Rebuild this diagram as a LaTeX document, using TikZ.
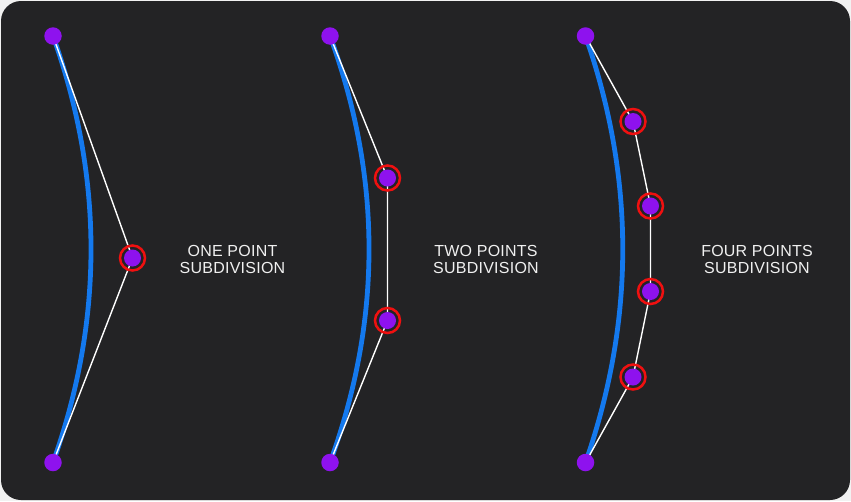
\documentclass[tikz,border=0pt]{standalone}
\usepackage{fontspec}
\setmainfont{Liberation Sans}[LetterSpace=1.5]
\usetikzlibrary{calc}
\definecolor{bgdark}{HTML}{232325}
\definecolor{outer}{HTML}{F2F2F2}
\definecolor{curveblue}{HTML}{1479EE}
\definecolor{dotpurple}{HTML}{8E12EE}
\definecolor{ringred}{HTML}{F01010}
\definecolor{labelgray}{HTML}{F0F0F0}
\tikzset{
  curve/.style={draw=curveblue, line width=4.8pt},
  hull/.style={draw=white, line width=1.4pt},
  enddot/.style={circle, fill=dotpurple, minimum size=17.5pt, inner sep=0pt},
  subdot/.style={circle, fill=dotpurple, minimum size=17pt, inner sep=0pt},
  ring/.style={circle, draw=ringred, line width=2.5pt, minimum size=25pt, inner sep=0pt},
  caption/.style={text=labelgray, font=\fontsize{16pt}{17pt}\selectfont, align=center, inner sep=0pt}
}
\begin{document}
\begin{tikzpicture}[x=1pt,y=-1pt]
\useasboundingbox (0,0) rectangle (851,501);
\fill[outer] (0,0) rectangle (851,501);
\fill[bgdark, rounded corners=20pt] (1,1) rectangle (850,500);

% ---------- panel 1 ----------
\coordinate (p1t) at (53,36);
\coordinate (p1b) at (53,462.5);
\coordinate (p1c) at (129,249);
\coordinate (p1m) at (132.5,258);
\draw[curve] (p1t) .. controls ($(p1t)!2/3!(p1c)$) and ($(p1b)!2/3!(p1c)$) .. (p1b);
\draw[hull] (p1t) -- (p1m) -- (p1b);
\node[ring] (r1m) at (p1m) {};
\node[subdot] (d1m) at (p1m) {};
\node[enddot] (d1t) at (p1t) {};
\node[enddot] (d1b) at (p1b) {};
\node[caption] (t1) at (232.5,259) {ONE POINT\\SUBDIVISION};

% ---------- panel 2 ----------
\coordinate (p2t) at (330,36);
\coordinate (p2b) at (330,462.5);
\coordinate (p2c) at (408,249);
\coordinate (p2m1) at (387.5,178);
\coordinate (p2m2) at (387.5,320.5);
\draw[curve] (p2t) .. controls ($(p2t)!2/3!(p2c)$) and ($(p2b)!2/3!(p2c)$) .. (p2b);
\draw[hull] (p2t) -- (p2m1) -- (p2m2) -- (p2b);
\foreach \n in {p2m1,p2m2}{
  \node[ring] (r\n) at (\n) {};
  \node[subdot] (d\n) at (\n) {};
}
\node[enddot] (d2t) at (p2t) {};
\node[enddot] (d2b) at (p2b) {};
\node[caption] (t2) at (486,259) {TWO POINTS\\SUBDIVISION};

% ---------- panel 3 ----------
\coordinate (p3t) at (585.5,36);
\coordinate (p3b) at (585.5,462.5);
\coordinate (p3c) at (660,249);
\coordinate (p3m1) at (633,121.5);
\coordinate (p3m2) at (650.5,206);
\coordinate (p3m3) at (650.5,291.5);
\coordinate (p3m4) at (633,377);
\draw[curve] (p3t) .. controls ($(p3t)!2/3!(p3c)$) and ($(p3b)!2/3!(p3c)$) .. (p3b);
\draw[hull] (p3t) -- (p3m1) -- (p3m2) -- (p3m3) -- (p3m4) -- (p3b);
\foreach \n in {p3m1,p3m2,p3m3,p3m4}{
  \node[ring] (r\n) at (\n) {};
  \node[subdot] (d\n) at (\n) {};
}
\node[enddot] (d3t) at (p3t) {};
\node[enddot] (d3b) at (p3b) {};
\node[caption] (t3) at (757,259) {FOUR POINTS\\SUBDIVISION};
\end{tikzpicture}
\end{document}
